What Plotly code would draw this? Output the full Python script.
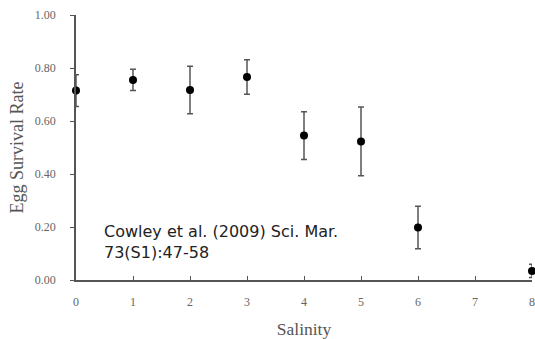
import plotly.graph_objects as go

salinity = [0, 1, 2, 3, 4, 5, 6, 8]
survival = [0.715, 0.755, 0.717, 0.766, 0.545, 0.523, 0.198, 0.034]
err = [0.06, 0.04, 0.09, 0.065, 0.09, 0.13, 0.08, 0.025]
x_ticks = [0, 1, 2, 3, 4, 5, 6, 7, 8]
y_ticks = [0.0, 0.2, 0.4, 0.6, 0.8, 1.0]
note_text = "Cowley et al. (2009) Sci. Mar.<br>73(S1):47-58"

fig = go.Figure()
fig.add_trace(go.Scatter(
    x=salinity, y=survival, mode="markers",
    marker=dict(color="black", size=8),
    error_y=dict(type="data", array=err, visible=True, color="#555555", thickness=1.5, width=3),
    cliponaxis=False, showlegend=False,
))

fig.add_annotation(
    x=0.45, y=0.145, xref="x", yref="y", xanchor="left", yanchor="middle",
    text=note_text, showarrow=False, align="left",
    font=dict(family="DejaVu Sans", size=16, color="#222222"),
)

tick_font = dict(family="Liberation Serif", size=12, color="#666666")
fig.update_layout(
    width=535, height=339,
    margin=dict(l=76, r=0, t=15, b=59),
    plot_bgcolor="white", paper_bgcolor="white",
    xaxis=dict(
        range=[0, 8], tickvals=x_ticks, ticktext=[str(v) for v in x_ticks],
        showline=True, linecolor="#555555", linewidth=1.5, showgrid=False, zeroline=False,
        ticks="inside", ticklen=4, tickcolor="#555555", tickfont=tick_font,
        ticklabelstandoff=10, ticklabeloverflow="allow",
        title=dict(text="Salinity", font=dict(family="Liberation Serif", size=17.5, color="#555555"), standoff=16),
    ),
    yaxis=dict(
        range=[0, 1.0], tickvals=y_ticks, ticktext=[f"{v:.2f}" for v in y_ticks],
        showline=True, linecolor="#555555", linewidth=1.5, showgrid=False, zeroline=False,
        ticks="outside", ticklen=4, tickcolor="#555555", tickfont=tick_font,
        ticklabelstandoff=12,
        title=dict(text="Egg Survival Rate", font=dict(family="Liberation Serif", size=18, color="#555555"), standoff=7),
    ),
)

fig.write_html(
    "out.html",
    config={"displayModeBar": False},
    post_script="document.body.style.margin='0';document.body.style.overflow='hidden';",
)
